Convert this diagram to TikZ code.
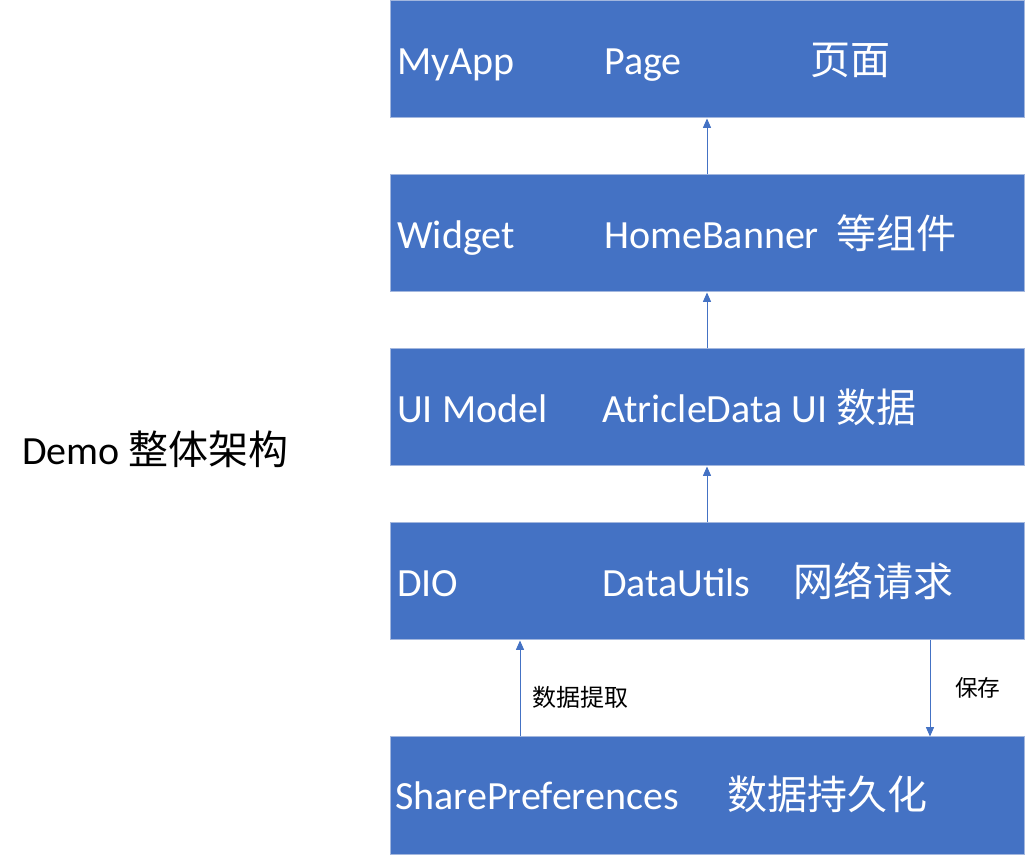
\documentclass[tikz,border=0pt]{standalone}
\usepackage{fontspec}
\setmainfont{Carlito}
\newfontfamily\cjk{Noto Sans CJK SC}
\usetikzlibrary{arrows.meta}
\definecolor{boxfill}{HTML}{4472C4}
\definecolor{boxline}{HTML}{A3B7DE}
\begin{document}
\begin{tikzpicture}[x=0.75pt,y=-0.75pt,
  layer/.style={draw=boxline,fill=boxfill,line width=0.75pt,inner sep=0,
    minimum width=475.5pt,minimum height=87.75pt},
  lbl/.style={anchor=base west,inner sep=0,text=white,font=\fontsize{30}{36}\selectfont},
  cjklbl/.style={lbl,font=\cjk\fontsize{30}{36}\selectfont},
  small/.style={anchor=base west,inner sep=0,text=black,font=\cjk\fontsize{18}{22}\selectfont},
  ttl/.style={anchor=base west,inner sep=0,text=black,font=\fontsize{30}{36}\selectfont},
  conn/.style={draw=boxfill,line width=0.75pt,-{Triangle[width=6pt,length=7pt]}}]
\useasboundingbox (0,0) rectangle (1026,855);
% layers
\node[layer] (b1) at (707,59.5) {};
\node[layer] (b2) at (707,233.5) {};
\node[layer] (b3) at (707,407.5) {};
\node[layer] (b4) at (707,581.5) {};
\node[layer] (b5) at (707,795.5) {};
% texts
\node[lbl] (t1a) at (397,75) {MyApp};
\node[lbl] (t1b) at (604,75) {Page};
\node[cjklbl] (t1c) at (810,75) {页面};
\node[lbl] (t2a) at (397,249) {Widget};
\node[lbl] (t2b) at (604,249) {HomeBanner};
\node[cjklbl] (t2c) at (836,249) {等组件};
\node[lbl] (t3a) at (397,423) {UI Model};
\node[lbl] (t3b) at (602,423) {AtricleData UI {\cjk 数据}};
\node[lbl] (t4a) at (397,597) {DIO};
\node[lbl] (t4b) at (602,597) {DataUtils};
\node[cjklbl] (t4c) at (793,597) {网络请求};
\node[lbl] (t5a) at (395,810) {SharePreferences};
\node[cjklbl] (t5b) at (727,810) {数据持久化};
\node[ttl] (title) at (22,465) {Demo {\cjk 整体架构}};
% connectors
\draw[conn] (b2.north) -- (b1.south);
\draw[conn] (b3.north) -- (b2.south);
\draw[conn] (b4.north) -- (b3.south);
\coordinate (pa) at (520,690);
\coordinate (pb) at (930,690);
\draw[conn] (b5.north -| pa) -- (b4.south -| pa);
\draw[conn] (b4.south -| pb) -- (b5.north -| pb);
\node[small] (l1) at (532,707) {数据提取};
\node[small,font=\cjk\fontsize{17}{21}\selectfont] (l2) at (955,697) {保存};
\end{tikzpicture}
\end{document}
